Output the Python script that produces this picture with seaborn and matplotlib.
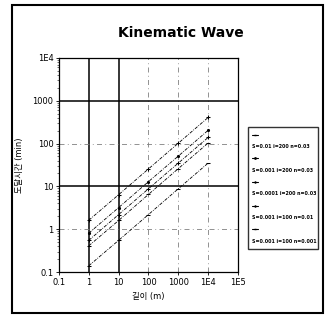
#%% Kinematic Wave - 길이별 도달시간
import pandas as pd
import seaborn as sns
import matplotlib.pyplot as plt
from matplotlib.lines import Line2D
from matplotlib.patches import Rectangle

#%% 데이터
길이 = [1, 10, 100, 1000, 10000]
s1 = [0.41, 1.6, 6.5, 26, 103]     # S=0.01 i=200 n=0.03
s2 = [0.81, 3.2, 12.9, 51, 204]    # S=0.001 i=200 n=0.03
s3 = [1.62, 6.4, 25.6, 102, 407]   # S=0.0001 i=200 n=0.03
s4 = [0.55, 2.2, 8.8, 35, 139]     # S=0.001 i=100 n=0.01
s5 = [0.14, 0.55, 2.2, 8.8, 35]    # S=0.001 i=100 n=0.001
rotulos = ['S=0.01 i=200 n=0.03', 'S=0.001 i=200 n=0.03',
           'S=0.0001 i=200 n=0.03', 'S=0.001 i=100 n=0.01',
           'S=0.001 i=100 n=0.001']
xticks = [0.1, 1, 10, 100, 1000, 10000, 100000]
xtick_lab = ['0.1', '1', '10', '100', '1000', '1E4', '1E5']
yticks = [0.1, 1, 10, 100, 1000, 10000]
ytick_lab = ['0.1', '1', '10', '100', '1000', '1E4']

df = pd.DataFrame({'Comprimento': 길이 * 5,
                   'Tempo': s1 + s2 + s3 + s4 + s5,
                   'Serie': sum([[r] * len(길이) for r in rotulos], [])})

#%% Figura
sns.set_style('white', {'text.color': 'black', 'axes.labelcolor': 'black',
                        'xtick.color': 'black', 'ytick.color': 'black'})
plt.rcParams['font.family'] = ['DejaVu Sans', 'Noto Sans CJK KR']

fig = plt.figure(figsize=(3.26, 3.20), dpi=100)
ax = fig.add_axes([0.181, 0.15, 0.549, 0.669])

marcadores = ['_', '.', '+', '+', '_']
for rot, m in zip(rotulos, marcadores):
    sns.lineplot(data=df[df['Serie'] == rot], x='Comprimento', y='Tempo',
                 color='black', lw=0.6, marker=m, markersize=3,
                 markeredgecolor='black', dashes=False, ax=ax, legend=False)
for line in ax.get_lines():
    line.set_dashes((4, 1.5, 1, 1.5))

ax.set_xscale('log')
ax.set_yscale('log')
ax.set_xlim(0.1, 100000)
ax.set_ylim(0.1, 10000)

# grade: linhas cheias em 1, 10 (x) e 10, 1000 (y)
for v in [1, 10]:
    ax.axvline(v, color='black', lw=1.1, zorder=1)
for v in [100, 1000, 10000]:
    ax.axvline(v, color='0.5', lw=0.6, dashes=(6, 4, 1, 4), zorder=1)
for v in [10, 1000]:
    ax.axhline(v, color='black', lw=1.1, zorder=1)
for v in [1, 100]:
    ax.axhline(v, color='0.5', lw=0.6, dashes=(6, 4, 1, 4), zorder=1)

ax.set_xticks(xticks)
ax.set_xticklabels(xtick_lab)
ax.set_yticks(yticks)
ax.set_yticklabels(ytick_lab)
ax.tick_params(axis='both', labelsize=6, length=2, width=0.6, pad=2,
               direction='out', left=True, bottom=True, colors='black')
ax.tick_params(axis='y', which='minor', left=True, length=1.5, width=0.4)
ax.tick_params(axis='x', which='minor', bottom=False)
for sp in ax.spines.values():
    sp.set_color('black')
    sp.set_linewidth(0.9)

ax.set_xlabel('길이 (m)', fontsize=6, labelpad=4, color='black')
ax.set_ylabel('도달시간 (min)', fontsize=6, labelpad=6, color='black')
fig.text(0.555, 0.897, 'Kinematic Wave', ha='center', va='center',
         fontsize=10, fontweight='bold', color='black')

#%% Legenda: símbolo acima do texto
handles_final, labels_final = [], []
for m, r in zip(marcadores, rotulos):
    handles_final += [Line2D([], [], color='black', lw=0.8, marker=m, markersize=2),
                      Line2D([], [], color='none')]
    labels_final += ['', r]
leg = fig.legend(handles_final, labels_final, loc='upper left',
                 bbox_to_anchor=(0.752, 0.609, 0.23, 0.0), mode='expand',
                 handlelength=1.2, handletextpad=-1.2,
                 labelspacing=1.45, borderpad=1.0, frameon=True, fancybox=False,
                 prop={'size': 3.4, 'weight': 'bold'}, labelcolor='black')
leg.get_frame().set_edgecolor('black')
leg.get_frame().set_linewidth(1.0)

# moldura externa
fig.patches.append(Rectangle((0.037, 0.022), 0.954, 0.9625, transform=fig.transFigure,
                             fill=False, edgecolor='black', lw=1.5))

fig.savefig('out.png', dpi=100)
